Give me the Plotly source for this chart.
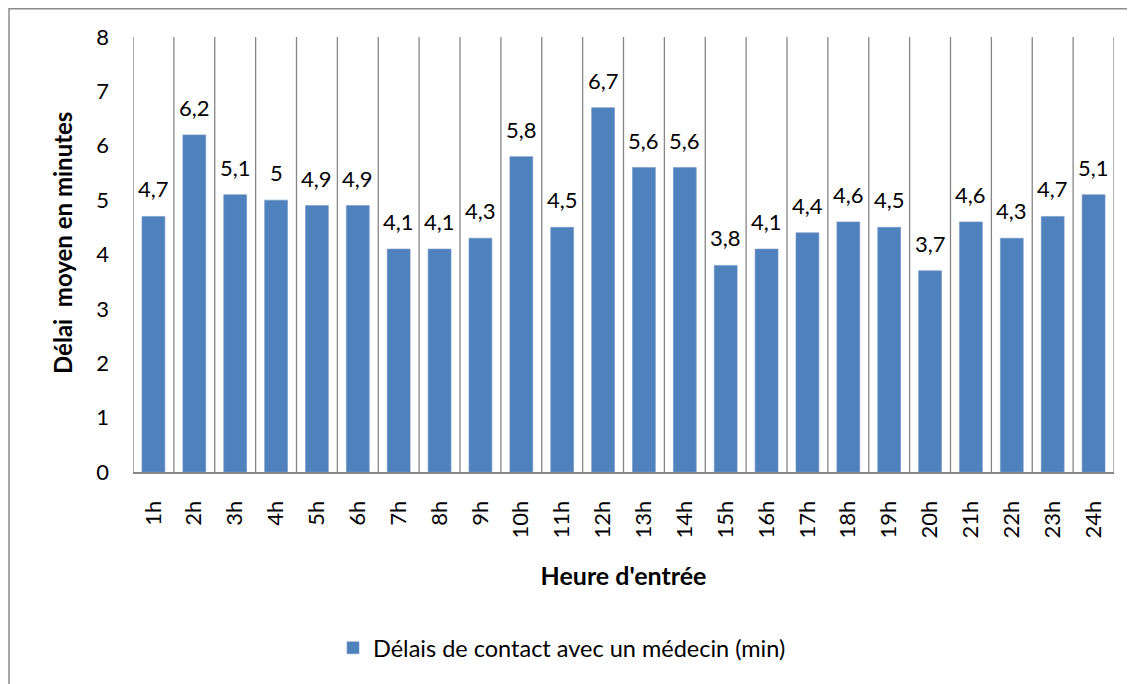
import plotly.graph_objects as go

categories = ["1h", "2h", "3h", "4h", "5h", "6h", "7h", "8h", "9h", "10h", "11h", "12h",
              "13h", "14h", "15h", "16h", "17h", "18h", "19h", "20h", "21h", "22h", "23h", "24h"]
values = [4.7, 6.2, 5.1, 5, 4.9, 4.9, 4.1, 4.1, 4.3, 5.8, 4.5, 6.7,
          5.6, 5.6, 3.8, 4.1, 4.4, 4.6, 4.5, 3.7, 4.6, 4.3, 4.7, 5.1]
y_ticks = [0, 1, 2, 3, 4, 5, 6, 7, 8]
series_name = "Délais de contact avec un médecin (min)"
x_title = "Heure d'entrée"
y_title = "Délai\u00a0 moyen en minutes"

FONT = "Lato, 'Open Sans', sans-serif"
GRID = "#868686"

# page body has an 8px margin, so the figure is sized to the visible area
W, H = 1127, 676
L, R, T, B = 125, 21, 29, 212
pw, ph = W - L - R, H - T - B

fig = go.Figure()
fig.add_trace(go.Bar(
    x=categories, y=values, name=series_name,
    marker=dict(color="#4F81BD", line=dict(color="#7397C8", width=0.6)),
    showlegend=True,
))

# data labels above the bars
annotations = []
for c, v in zip(categories, values):
    annotations.append(dict(
        x=c, y=v, xref="x", yref="y", text=f"{v:g}".replace(".", ","),
        showarrow=False, yanchor="bottom", xanchor="center", yshift=12,
        font=dict(family=FONT, size=22, color="#000000"),
    ))
# y axis title
annotations.append(dict(
    x=(54 - L) / pw, y=(H - B - 235) / ph, xref="paper", yref="paper",
    text="<b>" + y_title + "</b>", textangle=-90, showarrow=False,
    xanchor="center", yanchor="middle",
    font=dict(family=FONT, size=24, color="#000000"),
))

shapes = []
# category separator gridlines
for i in range(len(categories) + 1):
    shapes.append(dict(type="line", xref="x", yref="y", x0=i - 0.5, x1=i - 0.5,
                       y0=0, y1=y_ticks[-1], line=dict(color=GRID, width=1.3), layer="below"))
# chart border
shapes.append(dict(type="rect", xref="paper", yref="paper",
                   x0=(1 - L) / pw, x1=(W + 5 - L) / pw,
                   y0=-(B + 10) / ph, y1=(H - B - 0.8) / ph,
                   line=dict(color="#8c8c8c", width=1.5), fillcolor="rgba(0,0,0,0)"))

fig.update_layout(
    width=W, height=H,
    margin=dict(l=L, r=R, t=T, b=B, autoexpand=False),
    paper_bgcolor="white", plot_bgcolor="white",
    font=dict(family=FONT, size=22, color="#000000"),
    bargap=0.44,
    shapes=shapes,
    annotations=annotations,
    showlegend=True,
    legend=dict(x=(554 - L) / pw, y=(H - B - 640) / ph, xanchor="center", yanchor="middle",
                orientation="h", font=dict(family=FONT, size=23.5), itemwidth=30,
                bgcolor="rgba(0,0,0,0)"),
    xaxis=dict(
        type="category", tickangle=-90, showgrid=False, zeroline=False,
        showline=True, linecolor=GRID, linewidth=2, ticks="", ticklabelstandoff=18,
        tickfont=dict(family=FONT, size=22),
        title=dict(text="<b>" + x_title + "</b>", font=dict(family=FONT, size=25), standoff=30),
        range=[-0.5, len(categories) - 0.5],
    ),
    yaxis=dict(
        range=[0, y_ticks[-1]], tickvals=y_ticks, showgrid=False, zeroline=False,
        showline=False, ticks="", ticklabelstandoff=23,
        tickfont=dict(family=FONT, size=22),
    ),
)

fig.write_html("out.html")
